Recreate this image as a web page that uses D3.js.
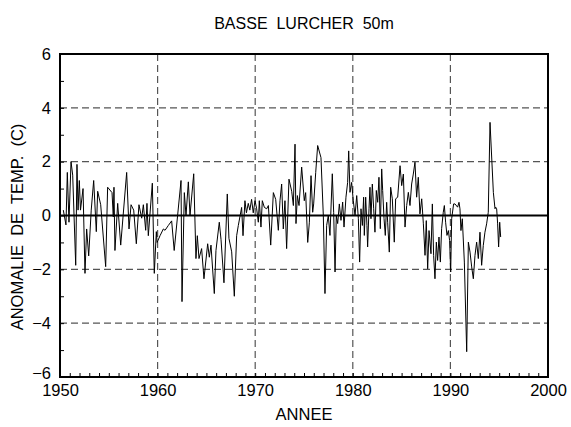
<!DOCTYPE html>
<html>
<head>
<meta charset="utf-8">
<script src="https://cdn.jsdelivr.net/npm/d3@7"></script>
<style>
  html, body { margin: 0; padding: 0; background: #fff; }
  svg { display: block; }
  text { font-family: "Liberation Sans", Arial, sans-serif; fill: #000; }
</style>
</head>
<body>
<svg id="chart" width="571" height="427"></svg>
<script>
const title = "BASSE  LURCHER  50m";
const xLabel = "ANNEE";
const yLabel = "ANOMALIE  DE  TEMP.  (C)";
const xTicks = [1950, 1960, 1970, 1980, 1990, 2000];
const yTicks = [-6, -4, -2, 0, 2, 4, 6];

const years = [
  1950.34, 1950.61, 1950.75, 1950.92, 1951.13, 1951.30, 1951.61, 1951.74, 1951.85, 1951.98,
  1952.10, 1952.36, 1952.56, 1952.73, 1952.94, 1953.20, 1953.45, 1953.72, 1953.86, 1954.17,
  1954.68, 1954.88, 1955.33, 1955.46, 1955.53, 1955.63, 1955.91, 1956.22, 1956.83, 1957.07,
  1957.28, 1957.55, 1957.82, 1958.09, 1958.37, 1958.54, 1958.78, 1958.91, 1959.05, 1959.46,
  1959.66, 1959.87, 1959.95, 1960.25, 1960.59, 1960.76, 1961.10, 1961.44, 1961.70, 1962.40,
  1962.50, 1962.74, 1962.91, 1963.15, 1963.32, 1963.70, 1963.93, 1964.07, 1964.24, 1964.51,
  1964.75, 1965.13, 1965.30, 1965.47, 1965.81, 1965.98, 1966.32, 1966.50, 1966.80, 1967.14,
  1967.31, 1967.59, 1967.86, 1968.10, 1968.27, 1968.61, 1968.75, 1968.95, 1969.10, 1969.29,
  1969.45, 1969.63, 1969.80, 1969.98, 1970.15, 1970.32, 1970.42, 1970.59, 1970.73, 1970.94,
  1971.18, 1971.35, 1971.59, 1971.86, 1972.10, 1972.37, 1972.54, 1972.71, 1972.88, 1973.05,
  1973.22, 1973.46, 1973.74, 1973.91, 1974.08, 1974.18, 1974.32, 1974.49, 1974.76, 1975.03,
  1975.17, 1975.38, 1975.55, 1975.72, 1975.89, 1975.99, 1976.20, 1976.40, 1976.74, 1976.98,
  1977.15, 1977.32, 1977.49, 1977.66, 1977.90, 1978.04, 1978.18, 1978.31, 1978.45, 1978.62,
  1978.79, 1978.96, 1979.10, 1979.30, 1979.47, 1979.58, 1979.71, 1979.88, 1980.05, 1980.23,
  1980.40, 1980.57, 1980.70, 1980.84, 1980.98, 1981.11, 1981.18, 1981.32, 1981.45, 1981.52,
  1981.66, 1981.76, 1981.86, 1982.00, 1982.14, 1982.27, 1982.41, 1982.55, 1982.68, 1982.82,
  1982.96, 1983.06, 1983.20, 1983.33, 1983.47, 1983.57, 1983.74, 1983.88, 1984.05, 1984.25,
  1984.39, 1984.60, 1984.84, 1985.01, 1985.18, 1985.35, 1985.52, 1985.69, 1985.86, 1986.03,
  1986.20, 1986.37, 1986.54, 1986.71, 1986.88, 1987.06, 1987.23, 1987.40, 1987.53, 1987.67,
  1987.81, 1988.01, 1988.15, 1988.28, 1988.42, 1988.56, 1988.69, 1988.83, 1988.97, 1989.10,
  1989.27, 1989.38, 1989.51, 1989.65, 1989.79, 1989.92, 1990.03, 1990.13, 1990.33, 1990.47,
  1990.74, 1990.88, 1990.98, 1991.08, 1991.22, 1991.43, 1991.67, 1991.84, 1992.01, 1992.18,
  1992.35, 1992.52, 1992.69, 1992.86, 1993.03, 1993.20, 1993.37, 1993.54, 1993.71, 1993.88,
  1994.06, 1994.40, 1994.57, 1994.64, 1994.74, 1994.84, 1994.94, 1995.05, 1995.15
];
const anomalies = [
  0.20, -0.35, 1.60, -0.25, 2.00, 1.50, -1.85, 1.90, 0.20, 1.30,
  0.20, 1.00, -2.15, -0.50, -1.50, 0.20, 1.30, -0.60, 0.90, 0.40,
  -1.90, 1.05, 0.85, -0.05, 1.05, -1.30, 0.45, -1.10, 1.60, -0.50,
  0.40, 0.20, -1.05, 0.40, -0.10, 0.40, -0.55, 0.45, -0.75, 1.20,
  -2.15, -0.60, -1.00, -0.75, -0.50, -0.55, -0.37, -0.20, -1.30, 1.30,
  -3.20, 0.85, 0.00, 1.25, 0.00, 1.55, -1.60, -0.75, -1.60, -1.23,
  -2.35, -1.05, -1.55, -1.10, -2.90, -1.30, -0.25, -0.90, -2.50, 0.80,
  -0.85, -1.35, -3.00, -0.75, -0.37, 0.30, -0.75, 0.55, 0.10, 0.45,
  0.20, 0.60, 0.10, 0.55, 0.25, -0.25, 0.55, -0.43, 0.55, 0.30,
  0.25, 0.37, -1.10, 0.85, 0.60, -0.55, 0.55, 1.17, -0.50, 0.55,
  -1.23, 1.35, 0.90, 0.37, 2.65, -0.30, 0.74, 0.37, 1.80, 0.55,
  0.85, -1.00, -0.25, 1.48, 0.12, 0.43, 1.60, 2.60, 2.15, 0.00,
  -2.90, -0.37, 0.00, -0.74, 1.55, 0.12, -2.10, 0.00, -0.30, 0.43,
  -0.18, 0.50, -0.43, 0.68, 1.23, 2.40, 0.86, 1.23, 0.55, 0.00,
  0.74, -0.12, -1.73, 0.25, -0.37, 0.68, -0.74, 0.68, -0.37, -1.17,
  0.25, 1.05, -0.12, 1.17, 0.25, -0.62, 0.93, 0.49, 1.42, -0.49,
  1.73, 0.93, -0.12, -0.74, 0.49, -0.25, -1.36, 1.05, 0.62, -0.99,
  0.62, 0.68, 1.85, 1.11, 1.54, -0.43, 0.37, 0.86, 0.37, 1.17,
  1.54, 1.98, 0.68, 1.42, 0.06, 0.62, -0.31, -1.48, -0.19, -1.98,
  -0.56, -1.42, 0.43, -1.48, -2.35, -0.99, -1.67, -0.80, -1.73, -0.49,
  0.12, 0.37, -0.25, -0.74, -0.56, -0.93, -2.10, -0.12, 0.43, 0.43,
  0.31, 0.49, 0.25, -0.56, -0.12, -1.73, -5.06, -0.99, -1.36, -1.91,
  -2.35, -1.48, -0.99, -1.60, -0.62, -1.85, -1.11, -0.62, -0.31, 0.12,
  3.46, 0.86, 0.25, 0.31, 0.25, -0.31, -1.17, -0.25, -0.80
];

const svg = d3.select("#chart");
const m = { left: 60, right: 23, top: 54, bottom: 50 };
const W = 571, H = 427;
const x = d3.scaleLinear().domain([1950, 2000]).range([m.left, W - m.right]);
const y = d3.scaleLinear().domain([-6, 6]).range([H - m.bottom, m.top]);
const FONT = "Liberation Sans, Arial, sans-serif";

// gridlines
const grid = svg.append("g");
grid.selectAll("line.gx").data(xTicks.slice(1, -1)).join("line")
  .attr("x1", d => x(d)).attr("x2", d => x(d))
  .attr("y1", y(6)).attr("y2", y(-6))
  .attr("stroke", "#555").attr("stroke-width", 1.2).attr("stroke-dasharray", "7,4");
grid.selectAll("line.gy").data(yTicks.filter(d => d !== 0 && Math.abs(d) !== 6)).join("line")
  .attr("y1", d => y(d)).attr("y2", d => y(d))
  .attr("x1", x(1950)).attr("x2", x(2000))
  .attr("stroke", "#555").attr("stroke-width", 1.2).attr("stroke-dasharray", "7,4");

// zero line
svg.append("line")
  .attr("x1", x(1950)).attr("x2", x(2000)).attr("y1", y(0)).attr("y2", y(0))
  .attr("stroke", "#000").attr("stroke-width", 2);

// data line
const line = d3.line().x((d, i) => x(years[i])).y(d => y(d));
svg.append("path").datum(anomalies)
  .attr("d", line).attr("fill", "none").attr("stroke", "#000").attr("stroke-width", 1);

// bottom axis with minor ticks (inward)
const xAxis = d3.axisBottom(x).tickValues(d3.range(1950, 2001, 1)).tickSize(-4).tickFormat("");
svg.append("g").attr("transform", `translate(0,${y(-6)})`).call(xAxis)
  .call(g => g.select(".domain").remove())
  .call(g => g.selectAll("line").attr("stroke", "#000"));
const xAxisLab = d3.axisBottom(x).tickValues(xTicks).tickSize(0).tickPadding(7).tickFormat(d3.format("d"));
svg.append("g").attr("transform", `translate(0,${y(-6)})`).call(xAxisLab)
  .call(g => g.select(".domain").remove())
  .call(g => g.selectAll("text").attr("font-size", 16.5).attr("font-family", FONT));

// left axis minor ticks (inward)
const yAxis = d3.axisLeft(y).tickValues(d3.range(-6, 7, 1)).tickSize(-4).tickFormat("");
svg.append("g").attr("transform", `translate(${x(1950)},0)`).call(yAxis)
  .call(g => g.select(".domain").remove())
  .call(g => g.selectAll("line").attr("stroke", "#000"));
const yAxisLab = d3.axisLeft(y).tickValues(yTicks).tickSize(0).tickPadding(9).tickFormat(d3.format("d"));
svg.append("g").attr("transform", `translate(${x(1950)},0)`).call(yAxisLab)
  .call(g => g.select(".domain").remove())
  .call(g => g.selectAll("text").attr("font-size", 16.5).attr("font-family", FONT)
    .attr("dy", d => d === -6 ? "0.1em" : "0.32em"));

// frame
svg.append("rect")
  .attr("x", x(1950)).attr("y", y(6))
  .attr("width", x(2000) - x(1950)).attr("height", y(-6) - y(6))
  .attr("fill", "none").attr("stroke", "#000").attr("stroke-width", 2);

// title
svg.append("text").attr("x", (x(1950) + x(2000)) / 2).attr("y", 29)
  .attr("text-anchor", "middle").attr("font-size", 16).style("white-space", "pre")
  .text(title);
// x label
svg.append("text").attr("x", (x(1950) + x(2000)) / 2).attr("y", 420)
  .attr("text-anchor", "middle").attr("font-size", 16.5)
  .text(xLabel);
// y label
svg.append("text").attr("transform", `translate(23,227) rotate(-90)`)
  .attr("text-anchor", "middle").attr("font-size", 16.5).style("white-space", "pre")
  .text(yLabel);
</script>
</body>
</html>
